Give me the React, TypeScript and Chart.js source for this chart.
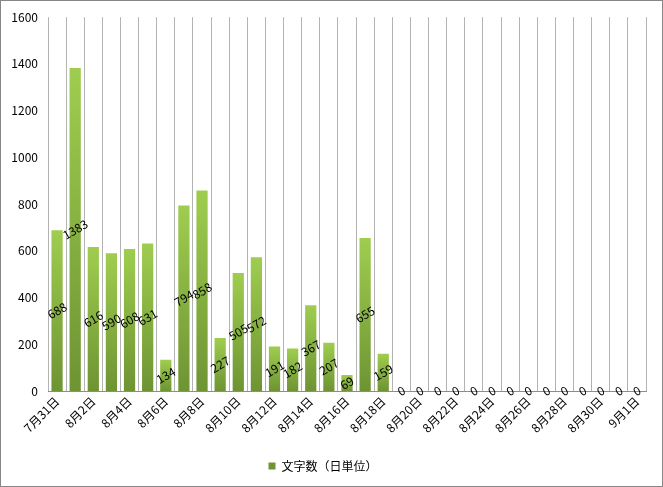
import { useEffect, useRef } from "react"
import { Chart, type ChartConfiguration, type Plugin, registerables } from "chart.js"

Chart.register(...registerables)

const categories = [
  "7月31日", "8月1日", "8月2日", "8月3日", "8月4日", "8月5日", "8月6日", "8月7日",
  "8月8日", "8月9日", "8月10日", "8月11日", "8月12日", "8月13日", "8月14日", "8月15日",
  "8月16日", "8月17日", "8月18日", "8月19日", "8月20日", "8月21日", "8月22日", "8月23日",
  "8月24日", "8月25日", "8月26日", "8月27日", "8月28日", "8月29日", "8月30日", "8月31日",
  "9月1日",
]

const charCounts = [
  688, 1383, 616, 590, 608, 631, 134, 794, 858, 227, 505, 572, 191, 182, 367, 207,
  69, 655, 159, 0, 0, 0, 0, 0, 0, 0, 0, 0, 0, 0, 0, 0, 0,
]

const yTicks = [0, 200, 400, 600, 800, 1000, 1200, 1400, 1600]

const seriesName = "文字数（日単位）"

const FONT = "'Noto Sans CJK JP', 'Noto Sans', sans-serif"

// white background + outer frame
const framePlugin: Plugin<"bar"> = {
  id: "frame",
  beforeDraw(chart) {
    const { ctx, width, height } = chart
    ctx.save()
    ctx.fillStyle = "#ffffff"
    ctx.fillRect(0, 0, width, height)
    ctx.strokeStyle = "#868686"
    ctx.lineWidth = 1
    ctx.strokeRect(0.5, 0.5, width - 1, height - 1)
    ctx.restore()
  },
}

// rotated value labels in the middle of each bar
const valueLabels: Plugin<"bar"> = {
  id: "valueLabels",
  afterDatasetsDraw(chart) {
    const { ctx } = chart
    const meta = chart.getDatasetMeta(0)
    const values = chart.data.datasets[0].data as number[]
    ctx.save()
    ctx.font = `12px ${FONT}`
    ctx.fillStyle = "#000000"
    ctx.textAlign = "center"
    ctx.textBaseline = "middle"
    meta.data.forEach((bar, i) => {
      const { x, y, base } = bar.getProps(["x", "y", "base"], true) as any
      ctx.save()
      ctx.translate(x, (y + base) / 2)
      ctx.rotate((-30 * Math.PI) / 180)
      ctx.fillText(String(values[i]), 0, 0)
      ctx.restore()
    })
    ctx.restore()
  },
}

export default function App() {
  const chartRef = useRef<HTMLCanvasElement>(null)
  const chartInstance = useRef<Chart | null>(null)

  useEffect(() => {
    document.body.style.margin = "0"
    if (!chartRef.current) return
    const ctx = chartRef.current.getContext("2d")
    if (!ctx) return

    if (chartInstance.current) {
      chartInstance.current.destroy()
    }

    const config: ChartConfiguration<"bar"> = {
      type: "bar",
      data: {
        labels: categories,
        datasets: [
          {
            label: seriesName,
            data: charCounts,
            backgroundColor: (context: any) => {
              const chart = context.chart
              const { chartArea, scales } = chart
              if (!chartArea || !scales.y || context.type !== "data") return "#8db943"
              const v = context.raw as number
              const top = scales.y.getPixelForValue(v)
              const bottom = scales.y.getPixelForValue(0)
              if (bottom - top < 1) return "#8db943"
              const g = chart.ctx.createLinearGradient(0, top, 0, bottom)
              g.addColorStop(0, "#9fcd4f")
              g.addColorStop(1, "#6e9433")
              return g
            },
            barPercentage: 0.62,
            categoryPercentage: 1,
          },
        ],
      },
      options: {
        responsive: false,
        animation: false,
        layout: {
          padding: { top: 15, right: 17, bottom: 5, left: 0 },
        },
        scales: {
          x: {
            grid: {
              display: true,
              color: "#b3b3b3",
              drawTicks: false,
              offset: true,
            },
            border: { display: true, color: "#8c8c8c" },
            ticks: {
              autoSkip: false,
              minRotation: 45,
              maxRotation: 45,
              padding: 3,
              color: "#000000",
              font: { family: FONT, size: 12 },
              callback: (_v, i) => (i % 2 === 0 ? categories[i] : ""),
            },
            afterFit: (scale) => {
              scale.height = 59
            },
          },
          y: {
            min: 0,
            max: 1600,
            afterBuildTicks: (scale) => {
              scale.ticks = yTicks.map((v) => ({ value: v }))
            },
            grid: { display: false, drawTicks: false },
            border: { display: false },
            ticks: {
              padding: 10,
              color: "#000000",
              font: { family: FONT, size: 12 },
              callback: (v) => String(v),
            },
            afterFit: (scale) => {
              scale.width = 48
            },
          },
        },
        plugins: {
          legend: {
            display: true,
            position: "bottom",
            labels: {
              boxWidth: 7,
              boxHeight: 7,
              padding: 10,
              color: "#000000",
              font: { family: FONT, size: 12 },
            },
          },
          tooltip: { enabled: false },
        },
      },
      plugins: [framePlugin, valueLabels],
    }

    chartInstance.current = new Chart(ctx, config)

    return () => {
      if (chartInstance.current) {
        chartInstance.current.destroy()
        chartInstance.current = null
      }
    }
  }, [])

  return (
    <div style={{ width: 663, height: 487 }}>
      <canvas ref={chartRef} width={663} height={487} />
    </div>
  )
}
